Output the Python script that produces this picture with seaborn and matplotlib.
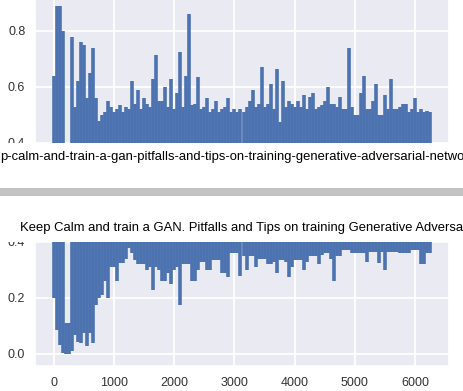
import numpy as np
import pandas as pd
import seaborn as sns
import matplotlib
matplotlib.use("Agg")
import matplotlib.pyplot as plt
from matplotlib.patches import Rectangle

# training steps (one sample every 50 iterations) with the upper / lower
# envelope of the very noisy loss curve
steps = list(range(0, 6300, 50))

upper = [
    0.64, 0.89, 0.89, 0.80, 0.11, 0.11, 0.78, 0.53, 0.62, 0.76,
    0.75, 0.56, 0.65, 0.74, 0.56, 0.48, 0.50, 0.51, 0.55, 0.53,
    0.51, 0.52, 0.535, 0.51, 0.53, 0.52, 0.62, 0.54, 0.59, 0.52,
    0.56, 0.54, 0.53, 0.63, 0.715, 0.55, 0.55, 0.60, 0.53, 0.63,
    0.52, 0.58, 0.725, 0.53, 0.64, 0.86, 0.535, 0.54, 0.635, 0.52,
    0.53, 0.56, 0.51, 0.52, 0.55, 0.51, 0.52, 0.53, 0.56, 0.51,
    0.52, 0.51, 0.52, 0.51, 0.53, 0.55, 0.59, 0.53, 0.54, 0.67,
    0.53, 0.54, 0.61, 0.52, 0.665, 0.475, 0.62, 0.53, 0.55, 0.54,
    0.53, 0.55, 0.53, 0.57, 0.52, 0.565, 0.58, 0.52, 0.53, 0.535,
    0.55, 0.60, 0.54, 0.54, 0.53, 0.565, 0.52, 0.52, 0.74, 0.53,
    0.50, 0.50, 0.58, 0.64, 0.52, 0.52, 0.55, 0.61, 0.50, 0.50,
    0.57, 0.52, 0.63, 0.52, 0.52, 0.53, 0.54, 0.54, 0.51, 0.52,
    0.56, 0.51, 0.52, 0.51, 0.515, 0.51,
]

lower = [
    0.20, 0.086, 0.032, 0.003, 0.0, 0.0, 0.01, 0.068, 0.043, 0.039,
    0.075, 0.03, 0.075, 0.04, 0.175, 0.20, 0.21, 0.26, 0.20, 0.31,
    0.31, 0.26, 0.325, 0.325, 0.34, 0.38, 0.36, 0.335, 0.32, 0.32,
    0.32, 0.30, 0.31, 0.23, 0.31, 0.30, 0.26, 0.26, 0.29, 0.25,
    0.30, 0.31, 0.175, 0.32, 0.32, 0.32, 0.26, 0.26, 0.30, 0.33,
    0.33, 0.30, 0.30, 0.335, 0.335, 0.335, 0.29, 0.29, 0.275, 0.36,
    0.36, 0.36, 0.28, 0.35, 0.30, 0.35, 0.35, 0.31, 0.34, 0.34,
    0.34, 0.32, 0.32, 0.33, 0.29, 0.335, 0.335, 0.33, 0.275, 0.31,
    0.335, 0.335, 0.335, 0.30, 0.33, 0.35, 0.35, 0.35, 0.32, 0.355,
    0.36, 0.36, 0.34, 0.26, 0.35, 0.35, 0.37, 0.37, 0.37, 0.36,
    0.36, 0.36, 0.36, 0.36, 0.33, 0.365, 0.365, 0.365, 0.325, 0.365,
    0.30, 0.365, 0.365, 0.365, 0.365, 0.36, 0.36, 0.36, 0.36, 0.37,
    0.37, 0.37, 0.32, 0.32, 0.36, 0.36,
]

# visible parts of the page texts (the screenshot cuts them at the edges)
caption = "p-calm-and-train-a-gan-pitfalls-and-tips-on-training-generative-adversarial-netwo"
title = "Keep Calm and train a GAN. Pitfalls and Tips on training Generative Adversa"

top_yticks = [0.4, 0.6, 0.8]
bottom_yticks = [0.0, 0.2, 0.4]
bottom_xticks = [0, 1000, 2000, 3000, 4000, 5000, 6000]

# each sample is one vertical swing of the noisy curve (low -> high)
df = pd.DataFrame({
    "step": np.repeat(steps, 2),
    "loss": np.column_stack([lower, upper]).ravel(),
    "unit": np.repeat(np.arange(len(steps)), 2),
})

sns.set_theme(style="darkgrid")
plt.rcParams["font.family"] = ["Liberation Sans", "DejaVu Sans"]
plt.rcParams["grid.linewidth"] = 1.3

W, H = 464, 391
fig = plt.figure(figsize=(W / 100, H / 100), dpi=100)


def fy(px):
    return 1 - px / H


def draw_loss(ax):
    sns.lineplot(data=df, x="step", y="loss", units="unit", ax=ax,
                 estimator=None, sort=False, color="#4C72B0",
                 linewidth=2.6, solid_capstyle="butt")
    ax.set_xlabel("")
    ax.set_ylabel("")
    ax.tick_params(axis="both", length=0, labelsize=9, labelcolor="#333333")
    ax.tick_params(axis="y", pad=7)
    ax.tick_params(axis="x", pad=8)


# upper chart, only its top part is visible
ax1 = fig.add_axes([35 / W, fy(150), 414 / W, 153 / H])
draw_loss(ax1)
ax1.set_xlim(-312.5, 6562.5)
ax1.set_ylim(0.375, 0.9214)
ax1.set_yticks(top_yticks)
ax1.set_xticks(bottom_xticks)
ax1.tick_params(axis="x", labelbottom=False)

# lower chart, only its bottom part is visible
ax2 = fig.add_axes([35 / W, fy(366), 414 / W, 131 / H])
draw_loss(ax2)
ax2.set_xlim(-312.5, 6562.5)
ax2.set_ylim(-0.0429, 0.425)
ax2.set_yticks(bottom_yticks)
ax2.set_xticks(bottom_xticks)

# page parts between the two images
fig.add_artist(Rectangle((0, fy(242.5)), 1, 100 / H, transform=fig.transFigure,
                         facecolor="white", edgecolor="none", zorder=5))
fig.add_artist(Rectangle((0, fy(195.5)), 1, 7.5 / H, transform=fig.transFigure,
                         facecolor="#C2C2C2", edgecolor="none", zorder=6))
fig.text(0.5 / W, fy(157), caption, ha="left", va="center", fontsize=9.35,
         color="black", zorder=7)
fig.text(20.5 / W, fy(228), title, ha="left", va="center", fontsize=9.4,
         color="black", zorder=7)

fig.savefig("out.png", dpi=100)
plt.close(fig)
